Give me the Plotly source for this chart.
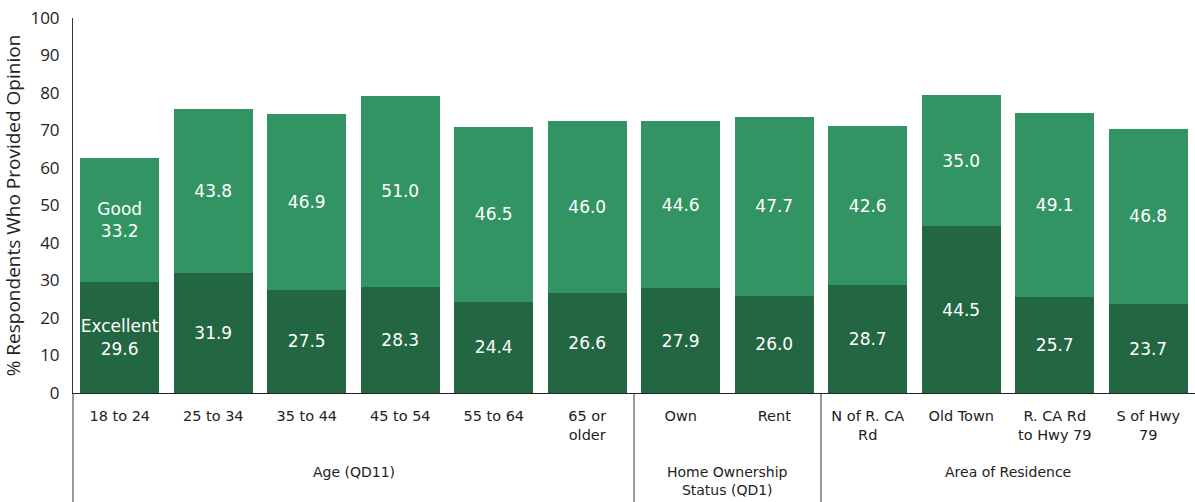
import plotly.graph_objects as go

# categories (x ticks)
categories = ["18 to 24", "25 to 34", "35 to 44", "45 to 54", "55 to 64", "65 or<br>older",
              "Own", "Rent",
              "N of R. CA<br>Rd", "Old Town", "R. CA Rd<br>to Hwy 79", "S of Hwy<br>79"]
groups = ["Age (QD11)", "Home Ownership<br>Status (QD1)", "Area of Residence"]
group_sizes = [6, 2, 4]

excellent = [29.6, 31.9, 27.5, 28.3, 24.4, 26.6, 27.9, 26.0, 28.7, 44.5, 25.7, 23.7]
good = [33.2, 43.8, 46.9, 51.0, 46.5, 46.0, 44.6, 47.7, 42.6, 35.0, 49.1, 46.8]

x = list(range(len(categories)))
FONT = "DejaVu Sans"
AXFONT = "Open Sans"

exc_text = ["Excellent<br>%.1f" % v if i == 0 else "%.1f" % v for i, v in enumerate(excellent)]
good_text = ["Good<br>%.1f" % v if i == 0 else "%.1f" % v for i, v in enumerate(good)]

fig = go.Figure()
fig.add_trace(go.Bar(x=x, y=excellent, name="Excellent", marker_color="#236642",
                     marker_line_width=0,
                     text=exc_text, textposition="inside", insidetextanchor="middle",
                     textangle=0, constraintext="none",
                     textfont=dict(color="white", size=17, family=FONT)))
fig.add_trace(go.Bar(x=x, y=good, name="Good", marker_color="#339463",
                     marker_line_width=0,
                     text=good_text, textposition="inside", insidetextanchor="middle",
                     textangle=0, constraintext="none",
                     textfont=dict(color="white", size=17, family=FONT)))

# group dividers and labels
start = 0
shapes = [dict(type="line", xref="paper", yref="paper", x0=0, x1=0, y0=0, y1=-0.3,
               line=dict(color="#333333", width=1))]
annotations = []
for g, n in zip(groups, group_sizes):
    end = start + n
    if end < len(categories):
        shapes.append(dict(type="line", xref="x", yref="paper", x0=end - 0.5, x1=end - 0.5,
                           y0=0, y1=-0.3, line=dict(color="#333333", width=1)))
    annotations.append(dict(x=(start + end - 1) / 2, xref="x", y=-0.183, yref="paper",
                            text=g, showarrow=False, yanchor="top",
                            font=dict(size=14, family=FONT, color="#222222")))
    start = end

fig.update_layout(
    barmode="stack", bargap=0.16, showlegend=False,
    width=1195, height=502,
    margin=dict(l=73, r=0, t=18, b=109, autoexpand=False),
    plot_bgcolor="white", paper_bgcolor="white",
    font=dict(family=FONT, size=14, color="#222222"),
    uniformtext=dict(minsize=17, mode="show"),
    shapes=shapes, annotations=annotations,
)
fig.update_xaxes(tickvals=x, ticktext=categories, range=[-0.5, len(categories) - 0.5],
                 showline=True, linecolor="#222222", ticks="", ticklabelstandoff=10,
                 tickfont=dict(size=14.5, family=FONT, color="#222222"))
fig.update_yaxes(range=[0, 100], dtick=10, showgrid=False, showline=True, linecolor="#333333",
                 ticks="", ticklabelstandoff=9,
                 tickfont=dict(size=17, family=AXFONT, color="#222222"),
                 title=dict(text="% Respondents Who Provided Opinion", standoff=8,
                            font=dict(size=19, family=AXFONT, color="#222222")))

fig.write_html("out.html", config={"displayModeBar": False},
               post_script="document.body.style.margin='0';")
